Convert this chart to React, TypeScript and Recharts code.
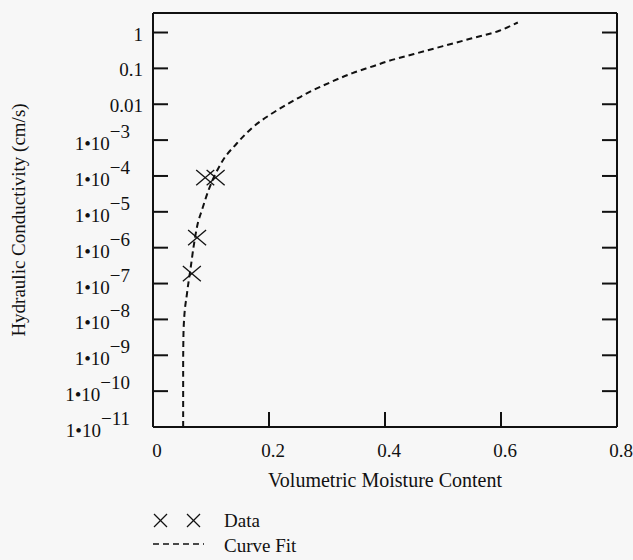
import {
  ComposedChart,
  Line,
  Scatter,
  XAxis,
  YAxis,
  Legend,
} from "recharts"

// curve fit: volumetric moisture content vs hydraulic conductivity (cm/s)
const fitTheta = [
  0.052, 0.052, 0.0529, 0.0587, 0.0644, 0.07, 0.076, 0.0846, 0.096, 0.119,
  0.144, 0.171, 0.2026, 0.234, 0.266, 0.303, 0.344, 0.381, 0.401, 0.45, 0.5,
  0.55, 0.597, 0.629,
]
const fitK = [
  1e-11, 7.4e-10, 6.3e-9, 5.4e-8, 2.4e-7, 1.07e-6, 3.9e-6, 1.15e-5, 4.1e-5,
  2.5e-4, 7.9e-4, 2.2e-3, 5.2e-3, 0.0105, 0.0204, 0.039, 0.074, 0.117, 0.151,
  0.251, 0.417, 0.69, 1.12, 1.9,
]

// measured points
const dataTheta = [0.09, 0.108, 0.076, 0.067]
const dataK = [9e-5, 9e-5, 1.9e-6, 1.9e-7]

const xTicks = [0, 0.2, 0.4, 0.6, 0.8]
const innerXTicks = [0.2, 0.4, 0.6]
const yTicks = [1, 0.1, 0.01, 1e-3, 1e-4, 1e-5, 1e-6, 1e-7, 1e-8, 1e-9, 1e-10, 1e-11]

const fitData = fitTheta.map((theta, i) => ({ theta, k: fitK[i] }))
const pointData = dataTheta.map((theta, i) => ({ theta, k: dataK[i] }))

const FONT = "'Liberation Serif', 'Times New Roman', serif"
const INK = "#111"
const TICK = 15
const FS = 19

function LeftTick({ x, y, payload }: any) {
  const v = payload.value
  const e = Math.round(Math.log10(v))
  return (
    <g>
      {e > -11 && <line x1={x} x2={x + TICK} y1={y} y2={y} stroke={INK} strokeWidth={2} />}
      {e >= -2 ? (
        <text x={x - 10} y={y} dy={8} textAnchor="end" fontSize={FS} fontFamily={FONT} fill={INK}>
          {String(v)}
        </text>
      ) : (
        <text x={x - 23} y={y} dy={10} textAnchor="end" fontSize={FS} fontFamily={FONT} fill={INK}>
          1•10<tspan dy={-12}>{"\u2212" + -e}</tspan>
        </text>
      )}
    </g>
  )
}

function RightTick({ x, y, payload }: any) {
  const e = Math.round(Math.log10(payload.value))
  if (e <= -11) return <g />
  return <line x1={x} x2={x - TICK} y1={y} y2={y} stroke={INK} strokeWidth={2} />
}

function BottomTick({ x, y, payload }: any) {
  const v = payload.value
  const inner = v > 0 && v < 0.8
  return (
    <g>
      {inner && <line x1={x} x2={x} y1={y} y2={y - TICK} stroke={INK} strokeWidth={2} />}
      <text x={x + 4} y={y} dy={30} textAnchor="middle" fontSize={FS} fontFamily={FONT} fill={INK}>
        {String(v)}
      </text>
    </g>
  )
}

function TopTick({ x, y }: any) {
  return <line x1={x} x2={x} y1={y} y2={y + TICK} stroke={INK} strokeWidth={2} />
}

function Cross({ cx, cy }: any) {
  const r = 9
  return (
    <g stroke={INK} strokeWidth={1.3}>
      <line x1={cx - r} y1={cy - r * 0.85} x2={cx + r} y2={cy + r * 0.85} />
      <line x1={cx - r} y1={cy + r * 0.85} x2={cx + r} y2={cy - r * 0.85} />
    </g>
  )
}

function LegendBox({ payload }: any) {
  const items = payload || []
  const dataItem = items.find((p: any) => p.type === "cross") || { value: "Data" }
  const fitItem = items.find((p: any) => p.type === "line") || { value: "Curve Fit" }
  return (
    <svg width={200} height={56} style={{ display: "block" }}>
      <g stroke={INK} strokeWidth={1.2}>
        <line x1={3} y1={9} x2={16} y2={22} />
        <line x1={3} y1={22} x2={16} y2={9} />
        <line x1={36} y1={9} x2={49} y2={22} />
        <line x1={36} y1={22} x2={49} y2={9} />
      </g>
      <line x1={2} y1={39} x2={53} y2={39} stroke={INK} strokeWidth={1.5} strokeDasharray="6 4" />
      <text x={73} y={22} fontSize={FS} fontFamily={FONT} fill={INK}>{dataItem.value}</text>
      <text x={73} y={47} fontSize={FS} fontFamily={FONT} fill={INK}>{fitItem.value}</text>
    </svg>
  )
}

export default function App() {
  return (
    <div style={{ position: "absolute", left: 0, top: 0, width: 633, height: 560, background: "#f7f7f7" }}>
      <ComposedChart width={633} height={560} margin={{ top: 12, right: 15, bottom: 17, left: 0 }}>
        <XAxis
          dataKey="theta"
          type="number"
          domain={[0, 0.8]}
          ticks={xTicks}
          allowDataOverflow
          height={60}
          tickSize={0}
          tickMargin={0}
          tickLine={false}
          axisLine={{ stroke: INK, strokeWidth: 2 }}
          tick={<BottomTick />}
          interval={0}
          label={{
            value: "Volumetric Moisture Content",
            position: "insideBottom",
            offset: 4,
            dy: 4,
            style: { fontSize: 20, fontFamily: FONT, fill: INK },
          }}
        />
        <XAxis
          xAxisId="top"
          orientation="top"
          type="number"
          domain={[0, 0.8]}
          ticks={innerXTicks}
          allowDataOverflow
          height={1}
          tickSize={0}
          tickMargin={0}
          tickLine={false}
          axisLine={{ stroke: INK, strokeWidth: 2 }}
          tick={<TopTick />}
          interval={0}
        />
        <YAxis
          dataKey="k"
          type="number"
          scale="log"
          domain={[1e-11, 3.5]}
          ticks={yTicks}
          allowDataOverflow
          width={153}
          tickSize={0}
          tickMargin={0}
          tickLine={false}
          axisLine={{ stroke: INK, strokeWidth: 2 }}
          tick={<LeftTick />}
          interval={0}
          label={{
            value: "Hydraulic Conductivity (cm/s)",
            angle: -90,
            position: "insideLeft",
            offset: 0,
            dx: 18,
            style: { fontSize: FS, fontFamily: FONT, fill: INK, textAnchor: "middle" },
          }}
        />
        <YAxis
          yAxisId="right"
          orientation="right"
          type="number"
          scale="log"
          domain={[1e-11, 3.5]}
          ticks={yTicks}
          allowDataOverflow
          width={1}
          tickSize={0}
          tickMargin={0}
          tickLine={false}
          axisLine={{ stroke: INK, strokeWidth: 2 }}
          tick={<RightTick />}
          interval={0}
        />
        <Line
          data={fitData}
          dataKey="k"
          name="Curve Fit"
          type="monotone"
          stroke={INK}
          strokeWidth={2}
          strokeDasharray="6 4"
          dot={false}
          legendType="line"
          isAnimationActive={false}
        />
        <Scatter
          data={pointData}
          dataKey="k"
          name="Data"
          shape={<Cross />}
          legendType="cross"
          isAnimationActive={false}
        />
        <Legend
          content={<LegendBox />}
          wrapperStyle={{ position: "absolute", left: 151, top: 505, width: 200, height: 56 }}
        />
      </ComposedChart>
    </div>
  )
}
